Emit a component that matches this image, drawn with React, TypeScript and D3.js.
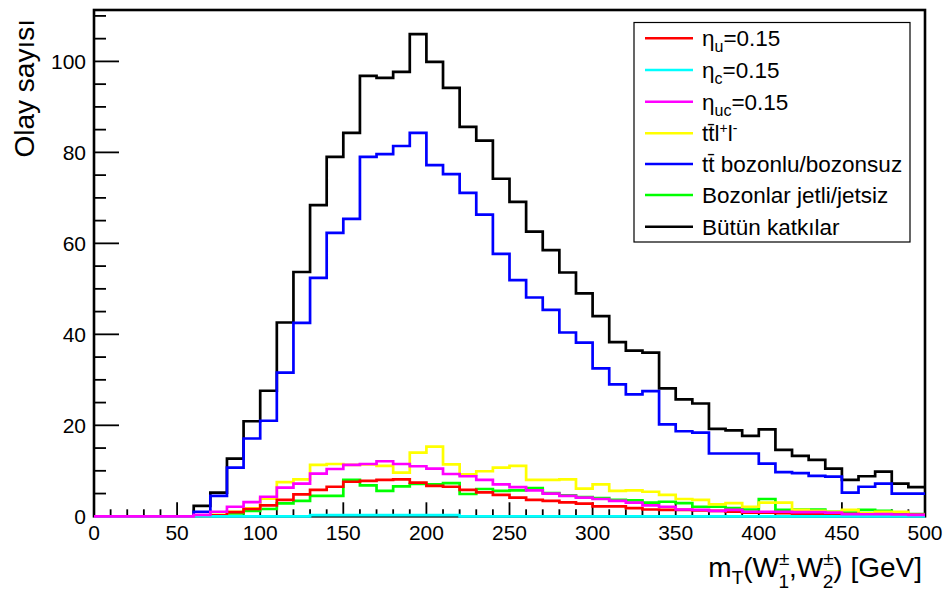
import React from "react";
import * as d3 from "d3";

// Bin lower edges (GeV), 10 GeV bins from 0 to 500
const binLow: number[] = d3.range(0, 500, 10);
const xTickLabels: number[] = [0, 50, 100, 150, 200, 250, 300, 350, 400, 450, 500];
const yTickLabels: number[] = [0, 20, 40, 60, 80, 100];

// Series values per bin (50 bins)
const etaU: number[] = [0, 0, 0, 0, 0, 0, 0, 0.2, 0.9, 1.6, 2.4, 3.6, 4.8, 5.8, 6.5, 7.6, 7.8, 8.0, 8.1, 7.4, 6.7, 6.5, 5.8, 5.25, 4.7, 4.1, 3.6, 3.4, 3.05, 2.8, 2.2, 2.2, 1.8, 1.5, 1.4, 1.4, 1.3, 1.2, 1.0, 0.8, 0.8, 0.7, 0.6, 0.6, 0.5, 0.5, 0.4, 0.4, 0.3, 0.3];
const etaC: number[] = [0, 0, 0, 0, 0, 0, 0, 0, 0, 0, 0, 0, 0, 0.25, 0.25, 0.25, 0.25, 0.25, 0.25, 0.25, 0.25, 0.25, 0, 0, 0, 0, 0, 0, 0, 0, 0, 0, 0, 0, 0, 0, 0, 0, 0, 0, 0, 0, 0, 0, 0, 0, 0, 0, 0, 0];
const etaUC: number[] = [0, 0, 0, 0, 0, 0, 0.3, 1.0, 2.1, 3.1, 4.3, 6.3, 7.2, 9.4, 10.4, 11.3, 11.5, 12.1, 11.5, 11.0, 10.5, 9.3, 8.8, 8.0, 7.0, 6.4, 5.7, 5.0, 4.5, 4.1, 3.8, 3.4, 3.0, 2.4, 2.1, 1.5, 1.4, 1.2, 1.4, 1.0, 1.0, 1.0, 0.9, 0.9, 0.8, 0.5, 0.45, 0.5, 0.4, 0.3];
const ttll: number[] = [0, 0, 0, 0, 0, 0, 0, 0.3, 1.0, 1.75, 3.9, 7.5, 8.1, 11.3, 11.5, 11.3, 11.4, 11.1, 9.6, 14.0, 15.3, 11.4, 9.2, 9.9, 10.7, 11.1, 8.0, 8.0, 8.1, 6.1, 7.0, 5.6, 5.7, 5.4, 4.7, 3.8, 3.6, 2.6, 2.9, 2.1, 3.0, 3.0, 1.4, 1.2, 1.0, 1.4, 0.7, 1.0, 1.0, 0.3];
const ttBoson: number[] = [0, 0, 0, 0, 0, 0, 1.0, 4.5, 10.7, 17.1, 21.0, 31.6, 42.5, 52.4, 62.3, 65.4, 79.0, 79.6, 81.4, 84.3, 77.2, 75.2, 71.1, 66.3, 57.7, 51.9, 48.1, 45.4, 40.4, 38.2, 32.5, 29.0, 26.8, 27.5, 20.2, 18.7, 18.4, 13.8, 13.8, 13.8, 11.6, 9.7, 9.5, 8.9, 8.7, 5.2, 6.5, 7.2, 5.0, 5.0];
const bosonJets: number[] = [0, 0, 0, 0, 0, 0, 0, 0.2, 0.65, 1.2, 1.6, 2.85, 3.4, 4.5, 4.5, 8.0, 6.8, 5.6, 6.6, 7.1, 7.0, 7.3, 4.9, 6.0, 5.6, 5.7, 6.2, 5.1, 4.6, 4.2, 4.0, 3.6, 3.5, 3.0, 3.2, 2.9, 2.1, 2.1, 1.8, 1.5, 3.8, 1.4, 1.5, 1.5, 1.0, 0.8, 1.4, 1.2, 0.65, 0.5];
const allContrib: number[] = [0, 0, 0, 0, 0, 0, 2.3, 5.2, 12.7, 20.9, 27.6, 42.6, 53.7, 68.4, 79.0, 84.3, 96.8, 96.4, 97.7, 106.0, 99.9, 94.2, 85.6, 82.6, 74.2, 69.1, 62.6, 58.5, 53.6, 49.0, 44.0, 38.3, 36.4, 36.0, 28.1, 25.7, 24.8, 19.2, 18.9, 17.7, 19.1, 14.6, 13.3, 12.4, 10.5, 8.0, 8.8, 9.8, 7.2, 6.4];

const FONT = "'Liberation Sans', Arial, Helvetica, sans-serif";

const W = 946;
const H = 597;
const frame = { left: 94, right: 925, top: 10, bottom: 516.3 };

const x = d3.scaleLinear().domain([0, 500]).range([frame.left, frame.right]);
const y = d3.scaleLinear().domain([0, 111.3]).range([frame.bottom, frame.top]);

const stepPath = (vals: number[]) => {
  const pts: [number, number][] = binLow.map((b, i) => [b, vals[i]]);
  pts.push([500, vals[vals.length - 1]]);
  return d3
    .line<[number, number]>()
    .x((d) => x(d[0]))
    .y((d) => y(d[1]))
    .curve(d3.curveStepAfter)(pts) as string;
};

// draw order (first drawn = bottom)
const drawOrder = [
  { vals: allContrib, color: "#000000" },
  { vals: ttBoson, color: "#0000ff" },
  { vals: bosonJets, color: "#00ff00" },
  { vals: ttll, color: "#ffff00" },
  { vals: etaU, color: "#ff0000" },
  { vals: etaC, color: "#00ffff" },
  { vals: etaUC, color: "#ff00ff" },
];

const legendColors = ["#ff0000", "#00ffff", "#ff00ff", "#ffff00", "#0000ff", "#00ff00", "#000000"];

const LegendLabel = ({ i }: { i: number }) => {
  const sub = (s: string) => (
    <>
      <tspan fontSize={16} dy={6}>{s}</tspan>
      <tspan dy={-6}>=0.15</tspan>
    </>
  );
  switch (i) {
    case 0:
      return <>η{sub("u")}</>;
    case 1:
      return <>η{sub("c")}</>;
    case 2:
      return <>η{sub("uc")}</>;
    case 3:
      return (
        <>
          t{"t\u0304"}l<tspan fontSize={14} dy={-8}>+</tspan>
          <tspan dy={8}>l</tspan>
          <tspan fontSize={14} dy={-8}>-</tspan>
        </>
      );
    case 4:
      return <>{"tt\u0304 bozonlu/bozonsuz"}</>;
    case 5:
      return <>Bozonlar jetli/jetsiz</>;
    default:
      return <>Bütün katkılar</>;
  }
};

export default function App() {
  const xMinor = d3.range(0, 501, 10);
  const yMinor = d3.range(0, 111, 5);
  const legendRows = [38.3, 70, 101.7, 133.3, 164, 195, 226.7];
  return (
    <div style={{ position: "absolute", left: 0, top: 0 }}>
      <svg width={W} height={H} style={{ display: "block", background: "#fff" }} fontFamily={FONT}>
        <rect x={0} y={0} width={W} height={H} fill="#fff" />
        {/* y ticks */}
        {yMinor.map((v) => (
          <line key={"ym" + v} x1={frame.left} x2={frame.left + (v % 20 === 0 ? 25 : 12)} y1={y(v)} y2={y(v)} stroke="#000" strokeWidth={1.8} />
        ))}
        {/* x ticks */}
        {xMinor.map((v) => (
          <line key={"xm" + v} x1={x(v)} x2={x(v)} y1={frame.bottom} y2={frame.bottom - (v % 50 === 0 ? 14 : 7)} stroke="#000" strokeWidth={1.8} />
        ))}
        {/* frame */}
        <rect x={frame.left} y={frame.top} width={frame.right - frame.left} height={frame.bottom - frame.top} fill="none" stroke="#000" strokeWidth={2.6} />
        {/* histograms */}
        {drawOrder.map((s, i) => (
          <path key={i} d={stepPath(s.vals)} fill="none" stroke={s.color} strokeWidth={2.7} strokeLinejoin="miter" />
        ))}
        {/* y tick labels */}
        {yTickLabels.map((v) => (
          <text key={"yl" + v} x={86} y={y(v)} dy="0.36em" textAnchor="end" fontSize={21}>
            {v}
          </text>
        ))}
        {/* x tick labels */}
        {xTickLabels.map((v) => (
          <text key={"xl" + v} x={x(v)} y={540} textAnchor="middle" fontSize={21}>
            {v}
          </text>
        ))}
        {/* y title */}
        <text transform={`translate(34, 19) rotate(-90)`} textAnchor="end" fontSize={28}>
          Olay sayısı
        </text>
        {/* x title */}
        <text x={922} y={577} textAnchor="end" fontSize={28}>
          m<tspan fontSize={19} dy={7}>T</tspan>
          <tspan dy={-7}>(W</tspan>
          <tspan fontSize={19} dy={-12}>±</tspan>
          <tspan fontSize={19} dx={-11} dy={23}>1</tspan>
          <tspan dy={-11}>,W</tspan>
          <tspan fontSize={19} dy={-12}>±</tspan>
          <tspan fontSize={19} dx={-11} dy={23}>2</tspan>
          <tspan dy={-11}>) [GeV]</tspan>
        </text>
        {/* legend */}
        <rect x={634} y={22.5} width={276} height={219.5} fill="#fff" stroke="#000" strokeWidth={1.2} />
        {legendRows.map((ry, i) => (
          <g key={"lg" + i}>
            <line x1={645} x2={693} y1={ry} y2={ry} stroke={legendColors[i]} strokeWidth={2.6} />
            <text x={702} y={ry} dy="0.36em" fontSize={22.5}>
              <LegendLabel i={i} />
            </text>
          </g>
        ))}
      </svg>
    </div>
  );
}
